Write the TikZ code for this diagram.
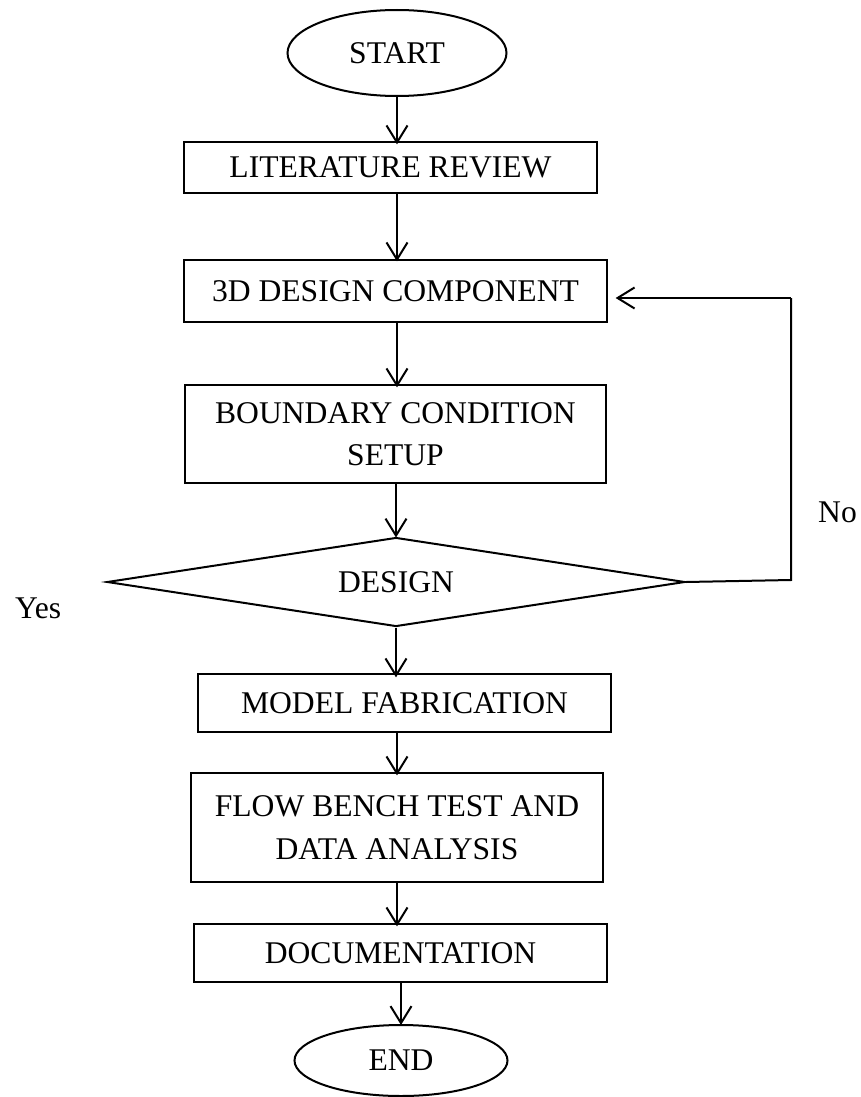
\documentclass[tikz,border=0pt]{standalone}
\usepackage{fontspec}
\setmainfont{Liberation Serif}
\usetikzlibrary{shapes.geometric,arrows.meta}
\tikzset{
  every node/.style={font=\fontsize{31.6}{42.5}\selectfont, align=center, inner sep=0pt},
  procbox/.style={draw, line width=1.3pt, rectangle},
  term/.style={draw, line width=2pt, ellipse, inner sep=0pt},
  decide/.style={draw, line width=2pt, diamond, aspect=6.5, inner sep=0pt},
  arr/.style={line width=2pt, -{Straight Barb[length=17pt,width=21pt,line width=2pt]}},
  link/.style={line width=2pt},
  lbl/.style={anchor=base west}
}
\begin{document}
\begin{tikzpicture}[x=1pt,y=-1pt]
\useasboundingbox (0,0) rectangle (861,1097);
\node[term, minimum width=219pt, minimum height=86pt] (start) at (397,53) {START};
\node[procbox, minimum width=413pt, minimum height=51pt] (lr) at (390.5,167.5) {LITERATURE REVIEW};
\node[procbox, minimum width=423pt, minimum height=62pt] (d3) at (395.5,291) {3D DESIGN COMPONENT};
\node[procbox, minimum width=421pt, minimum height=98pt] (bc) at (395.5,434) {BOUNDARY CONDITION\\SETUP};
\node[decide, minimum width=578pt, minimum height=89pt] (dec) at (396,582) {DESIGN};
\node[procbox, minimum width=413pt, minimum height=58pt] (mf) at (404.5,703) {MODEL FABRICATION};
\node[procbox, minimum width=412pt, minimum height=109pt] (fb) at (397,827.5) {FLOW BENCH TEST AND\\DATA ANALYSIS};
\node[procbox, minimum width=413pt, minimum height=58pt] (doc) at (400.5,953) {DOCUMENTATION};
\node[term, minimum width=213pt, minimum height=71pt] (end) at (401,1060.5) {END};
\coordinate (c1) at (791,580);
\coordinate (c2) at (791,298);
\node[lbl] (no) at (818,522) {No};
\node[lbl] (yes) at (15,618) {Yes};

\draw[arr] (start.south) -- ([yshift=-3pt]start.south |- lr.north);
\draw[arr] (lr.south -| start.south) -- ([yshift=-2pt]start.south |- d3.north);
\draw[arr] (d3.south -| start.south) -- ([yshift=-3pt]start.south |- bc.north);
\draw[arr] (bc.south -| dec.north) -- ([yshift=-1pt]dec.north);
\draw[arr] (dec.south) -- ([yshift=-4pt]dec.south |- mf.north);
\draw[arr] (mf.south -| fb.north) -- ([yshift=-3pt]fb.north);
\draw[arr] (fb.south) -- ([yshift=-3pt]fb.south |- doc.north);
\draw[arr] (doc.south -| end.north) -- ([yshift=-1pt]end.north);
\draw[link] (dec.east) -- (c1) -- (c2);
\draw[arr] (c2) -- ([xshift=8pt]c2 -| d3.east);
\end{tikzpicture}
\end{document}
